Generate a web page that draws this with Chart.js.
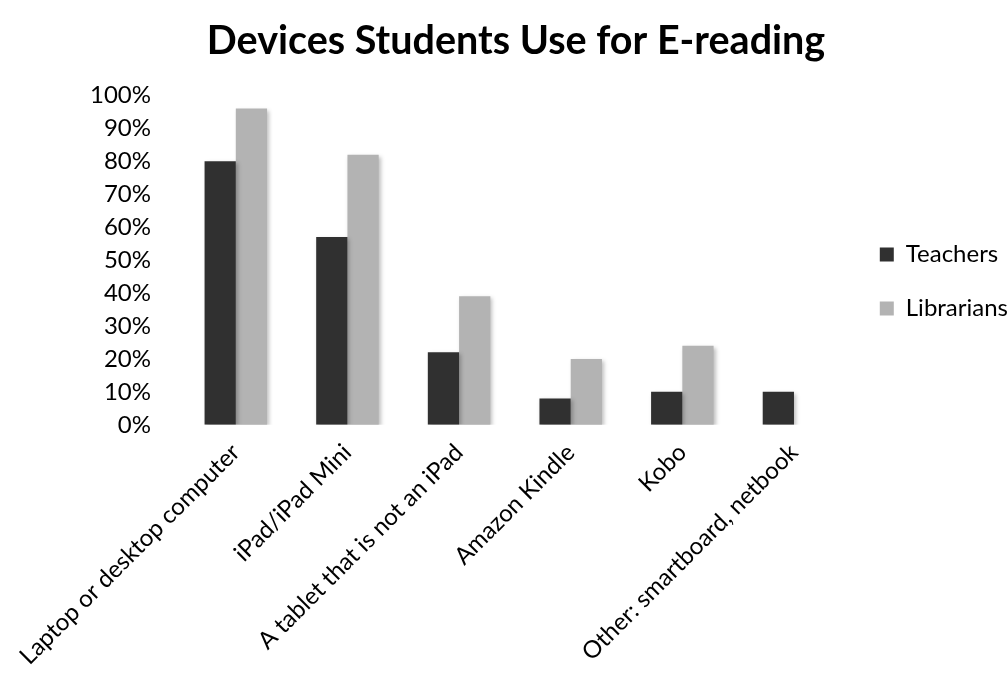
<!DOCTYPE html>
<html>
<head>
<meta charset="utf-8">
<script src="https://cdn.jsdelivr.net/npm/chart.js@4/dist/chart.umd.min.js"></script>
<style>
  html, body { margin: 0; padding: 0; background: #fff; }
  #wrap { width: 1008px; height: 676px; }
</style>
</head>
<body>
<div id="wrap"><canvas id="myChart"></canvas></div>
<script>
var categories = ['Laptop or desktop computer', 'iPad/iPad Mini', 'A tablet that is not an iPad',
                  'Amazon Kindle', 'Kobo', 'Other: smartboard, netbook'];
var teachers = [80, 57, 22, 8, 10, 10];
var librarians = [96, 82, 39, 20, 24, 0];
var yTicks = [0, 10, 20, 30, 40, 50, 60, 70, 80, 90, 100];

var font = "Lato, 'Open Sans', sans-serif";

// soft drop shadow under the bars, like the original
var barShadow = {
    id: 'barShadow',
    beforeDatasetsDraw: function (chart) {
        var c = chart.ctx;
        c.save();
        c.shadowColor = 'rgba(0,0,0,0.25)';
        c.shadowBlur = 4;
        c.shadowOffsetX = 2;
        c.shadowOffsetY = 2;
    },
    afterDatasetsDraw: function (chart) {
        chart.ctx.restore();
    }
};

var ctx = document.getElementById('myChart').getContext('2d');
new Chart(ctx, {
    type: 'bar',
    data: {
        labels: categories,
        datasets: [{
            label: 'Teachers',
            backgroundColor: '#303030',
            data: teachers
        }, {
            label: 'Librarians',
            backgroundColor: '#b3b3b3',
            data: librarians
        }]
    },
    options: {
        responsive: true,
        maintainAspectRatio: false,
        animation: false,
        layout: { padding: { top: 0, left: 14, right: -10, bottom: 0 } },
        datasets: { bar: { categoryPercentage: 0.56, barPercentage: 1 } },
        plugins: {
            title: {
                display: true,
                text: 'Devices Students Use for E-reading',
                color: '#000',
                font: { family: font, size: 39.5, weight: 'bold' },
                padding: { top: 18, bottom: 30 }
            },
            legend: {
                position: 'right',
                fullSize: false,
                // blank title only pushes the two entries down a little
                title: { display: true, text: ' ', font: { size: 10 }, padding: { top: 31, bottom: 0 } },
                labels: {
                    color: '#000',
                    font: { family: font, size: 24 },
                    boxWidth: 14,
                    boxHeight: 14,
                    padding: 30
                }
            },
            tooltip: { enabled: false }
        },
        scales: {
            x: {
                grid: { display: false },
                border: { display: false },
                ticks: {
                    color: '#000',
                    font: { family: font, size: 24 },
                    minRotation: 45,
                    maxRotation: 45,
                    padding: 5.5
                }
            },
            y: {
                min: 0,
                max: 100,
                afterBuildTicks: function (axis) {
                    axis.ticks = yTicks.map(function (v) { return { value: v }; });
                },
                afterFit: function (axis) { axis.width = 166; },
                grid: { display: false },
                border: { display: false },
                ticks: {
                    color: '#000',
                    font: { family: font, size: 24 },
                    padding: 21,
                    callback: function (v) { return v + '%'; }
                }
            }
        }
    },
    plugins: [barShadow]
});
</script>
</body>
</html>
